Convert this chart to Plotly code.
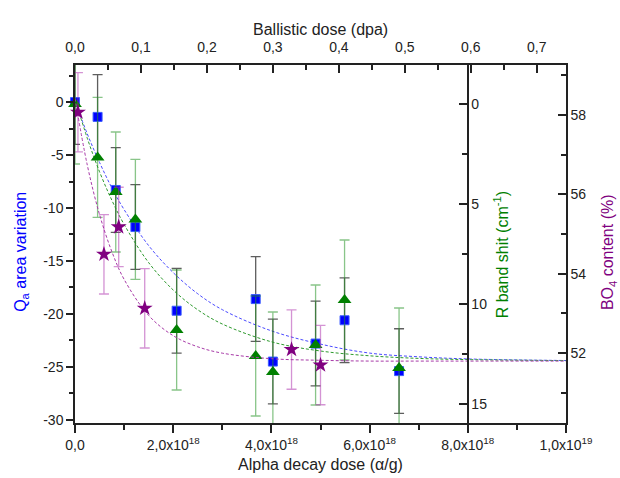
import plotly.graph_objects as go

# ---------------- data ----------------
# Alpha decay dose (alpha/g) of the samples, in units of 1e18
dose_q = [0.0, 0.46, 0.83, 1.23, 2.07, 3.68, 4.03, 4.90, 5.49, 6.60]
q_area = [0.0, -1.4, -8.3, -11.8, -19.7, -18.6, -24.5, -22.8, -20.6, -25.4]
q_err = [4.0, 4.0, 4.0, 4.0, 4.0, 4.0, 4.0, 4.0, 4.0, 4.0]

dose_r = [0.0, 0.46, 0.83, 1.23, 2.07, 3.68, 4.03, 4.90, 5.49, 6.60]
r_shift = [0.0, 2.67, 4.4, 5.77, 11.3, 12.6, 13.4, 12.05, 9.8, 13.2]
r_err = [3.0, 3.0, 3.0, 3.0, 3.0, 3.0, 3.0, 3.0, 3.0, 3.0]

dose_b = [0.06, 0.59, 0.89, 1.42, 4.41, 5.00]
bo4 = [58.07, 54.49, 55.18, 53.13, 52.09, 51.70]
bo4_err = [1.0, 1.0, 1.0, 1.0, 1.0, 1.0]

# fitted curves, points
fit_x = [0.0, 0.25, 0.5, 0.75, 1.0, 1.5, 2.0, 2.5, 3.0, 4.0, 5.0, 6.0, 7.0, 8.0, 10.0]
fit_q = [0.1, -3.0, -5.7, -8.1, -10.15, -13.55, -16.1, -18.1, -19.6, -21.6, -22.85,
         -23.7, -24.05, -24.25, -24.4]
fit_r = [-0.27, 1.71, 3.39, 4.81, 6.02, 7.93, 9.3, 10.29, 11.0, 11.89, 12.35,
         12.59, 12.72, 12.78, 12.83]
fit_b = [58.42, 56.74, 55.49, 54.56, 53.86, 52.95, 52.44, 52.16, 52.0, 51.86, 51.82,
         51.80, 51.80, 51.80, 51.80]

x_ticks = [0, 2, 4, 6, 8, 10]
x_ticktext = ["0,0", "2,0x10<sup>18</sup>", "4,0x10<sup>18</sup>", "6,0x10<sup>18</sup>",
              "8,0x10<sup>18</sup>", "1,0x10<sup>19</sup>"]
top_ticks = [0.0, 0.1, 0.2, 0.3, 0.4, 0.5, 0.6, 0.7]
top_ticktext = ["0,0", "0,1", "0,2", "0,3", "0,4", "0,5", "0,6", "0,7"]
q_ticks = [-30, -25, -20, -15, -10, -5, 0]
q_ticktext = ["-30", "-25", "-20", "-15", "-10", "-5", "0"]
r_ticks = [0, 5, 10, 15]
r_ticktext = ["0", "5", "10", "15"]
b_ticks = [52, 54, 56, 58]
b_ticktext = ["52", "54", "56", "58"]

E18 = 1e18
BLUE = "#0000FF"
GREEN = "#008000"
PURPLE = "#800080"
AX = "#222222"
FONT = "Liberation Sans, Arial, sans-serif"

fig = go.Figure()

# fits
fig.add_trace(go.Scatter(x=[v * E18 for v in fit_x], y=fit_q, mode="lines",
                         line=dict(color="#4a4aff", width=1, dash="3px,2px", shape="spline"),
                         yaxis="y", hoverinfo="skip"))
fig.add_trace(go.Scatter(x=[v * E18 for v in fit_x], y=fit_r, mode="lines",
                         line=dict(color="#2e9a2e", width=1, dash="3px,2px", shape="spline"),
                         yaxis="y2", hoverinfo="skip"))
fig.add_trace(go.Scatter(x=[v * E18 for v in fit_x], y=fit_b, mode="lines",
                         line=dict(color="#a83aa8", width=1, dash="3px,2px", shape="spline"),
                         yaxis="y3", hoverinfo="skip"))

# data
fig.add_trace(go.Scatter(x=[v * E18 for v in dose_q], y=q_area, mode="markers",
                         marker=dict(symbol="square", size=9, color=BLUE,
                                     line=dict(color="#3a5cff", width=1)),
                         error_y=dict(type="data", array=q_err, color="rgba(40,40,40,0.75)",
                                      thickness=1.3, width=5),
                         cliponaxis=False, yaxis="y"))
fig.add_trace(go.Scatter(x=[v * E18 for v in dose_r], y=r_shift, mode="markers",
                         marker=dict(symbol="triangle-up", size=12, color=GREEN),
                         error_y=dict(type="data", array=r_err, color="rgba(40,150,40,0.55)",
                                      thickness=1.3, width=5),
                         cliponaxis=False, yaxis="y2"))
fig.add_trace(go.Scatter(x=[v * E18 for v in dose_b], y=bo4, mode="markers",
                         marker=dict(symbol="star", size=12, color=PURPLE),
                         error_y=dict(type="data", array=bo4_err, color="rgba(170,40,170,0.5)",
                                      thickness=1.3, width=5),
                         cliponaxis=False, yaxis="y3"))

common = dict(showgrid=False, zeroline=False, showline=True, linecolor=AX, linewidth=1.5,
              tickcolor=AX, tickwidth=1.5, tickfont=dict(family=FONT, size=14, color=AX))

fig.update_layout(
    width=620, height=478,
    margin=dict(l=75, r=54, t=65, b=55),
    paper_bgcolor="white", plot_bgcolor="white",
    showlegend=False,
    font=dict(family=FONT, color=AX),
    xaxis=dict(range=[0, 1e19], tickmode="array", tickvals=[v * E18 for v in x_ticks],
               ticktext=x_ticktext, ticks="outside", ticklen=8,
               minor=dict(tickvals=[1e18, 3e18, 5e18, 7e18, 9e18], ticks="outside",
                          ticklen=5, tickcolor=AX, tickwidth=1.5),
               anchor="y", **common),
    xaxis2=dict(range=[0, 0.7443], overlaying="x", side="top", anchor="y",
                tickmode="array", tickvals=top_ticks, ticktext=top_ticktext,
                ticks="inside", ticklen=8, ticklabelstandoff=6,
                minor=dict(tickvals=[0.05, 0.15, 0.25, 0.35, 0.45, 0.55, 0.65],
                           ticks="inside", ticklen=5, tickcolor=AX, tickwidth=1.5),
                **common),
    yaxis=dict(range=[-30.3, 3.5], tickmode="array", tickvals=q_ticks, ticktext=q_ticktext,
               ticks="outside", ticklen=7,
               minor=dict(tickvals=[-27.5, -22.5, -17.5, -12.5, -7.5, -2.5, 2.5],
                          ticks="outside", ticklen=4, tickcolor=AX, tickwidth=1.5),
               **common),
    yaxis2=dict(range=[15.95, -1.95], overlaying="y", anchor="free", position=0.8,
                side="right", tickmode="array", tickvals=r_ticks, ticktext=r_ticktext,
                ticks="inside", ticklen=8,
                minor=dict(tickvals=[2.5, 7.5, 12.5], ticks="inside", ticklen=5,
                           tickcolor=AX, tickwidth=1.5),
                **common),
    yaxis3=dict(range=[50.24, 59.26], overlaying="y", anchor="x", side="right",
                tickmode="array", tickvals=b_ticks, ticktext=b_ticktext,
                ticks="inside", ticklen=8,
                minor=dict(tickvals=[51, 53, 55, 57, 59], ticks="inside", ticklen=5,
                           tickcolor=AX, tickwidth=1.5),
                **common),
)

# a hidden point on the top axis so that the ballistic-dose axis is drawn
fig.add_trace(go.Scatter(x=[0.0], y=[0.0], xaxis="x2", yaxis="y", mode="markers",
                         marker=dict(size=1, opacity=0), showlegend=False,
                         hoverinfo="skip"))

tfont = dict(family=FONT, size=16)
fig.add_annotation(text="Ballistic dose (dpa)", xref="paper", yref="paper",
                   x=0.5, y=1.098, showarrow=False, xanchor="center", yanchor="middle",
                   font=dict(tfont, color=AX))
fig.add_annotation(text="Alpha decay dose (α/g)", xref="paper", yref="paper",
                   x=0.501, y=-0.117, showarrow=False, xanchor="center", yanchor="middle",
                   font=dict(tfont, color=AX))
fig.add_annotation(text="Q<sub>a</sub> area variation", xref="paper", yref="paper",
                   x=-0.108, y=0.478, showarrow=False, textangle=-90,
                   xanchor="center", yanchor="middle", font=dict(tfont, color=BLUE))
fig.add_annotation(text="R band shit (cm<sup>-1</sup>)", xref="paper", yref="paper",
                   x=0.868, y=0.469, showarrow=False, textangle=-90,
                   xanchor="center", yanchor="middle", font=dict(tfont, color=GREEN))
fig.add_annotation(text="BO<sub>4</sub> content (%)", xref="paper", yref="paper",
                   x=1.088, y=0.478, showarrow=False, textangle=-90,
                   xanchor="center", yanchor="middle", font=dict(tfont, color=PURPLE))

fig.write_html("out.html")
